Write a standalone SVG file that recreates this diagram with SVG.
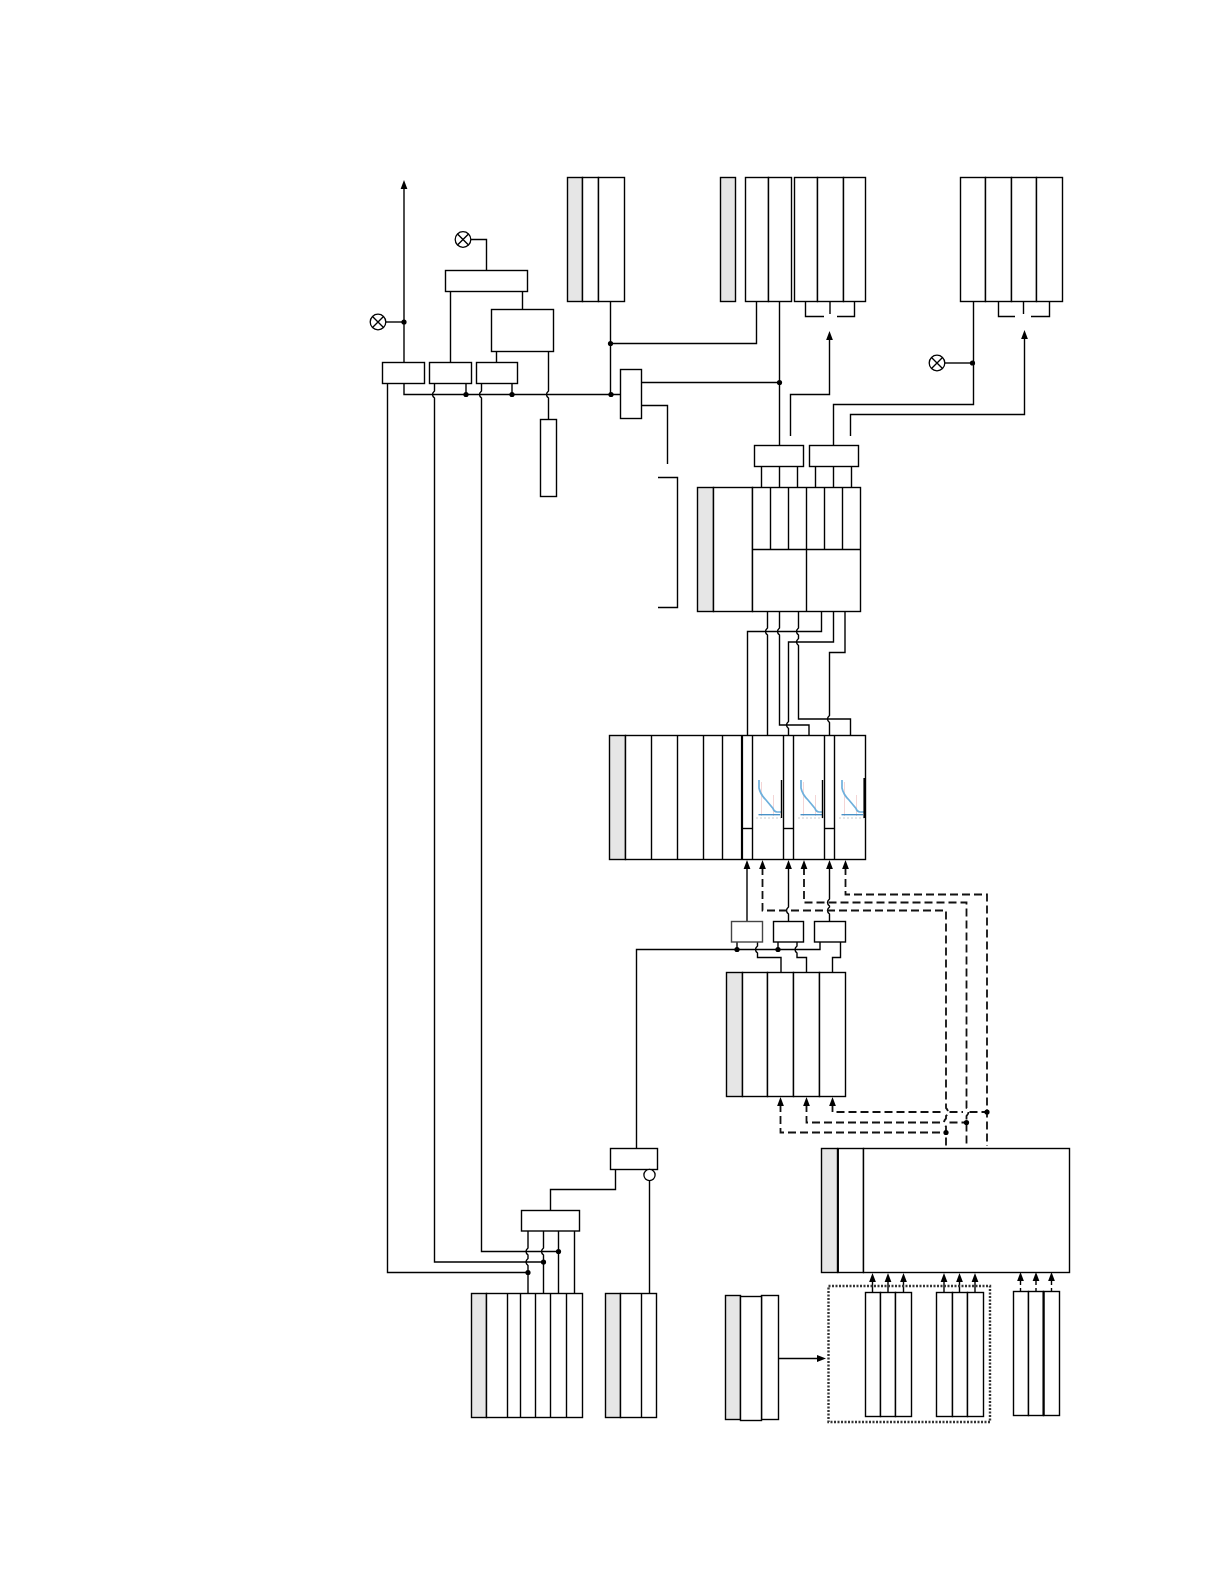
<svg xmlns="http://www.w3.org/2000/svg" width="1224" height="1584" viewBox="0 0 1224 1584">
<style>
rect{fill:#fff;stroke:#000;stroke-width:1.4}
rect.g{fill:#e6e6e6}
line{stroke:#000;stroke-width:1.4}
line.t{stroke-width:2.2}
path{fill:none;stroke:#000;stroke-width:1.4}
path.d{stroke-width:1.8;stroke-dasharray:8 4;stroke:#111}
circle.dot{fill:#000;stroke:none}
.lamp circle{fill:#fff;stroke:#000;stroke-width:1.3}
path.tip{fill:#000;stroke:none}
</style>
<defs>
<path id="up" class="tip" d="M0 0L-3.4 9H3.4Z"/>
<path id="right" class="tip" d="M0 0L-9 -3.4V3.4Z"/>
<circle id="dt" class="dot" r="2.6"/>
<g id="lampg" class="lamp"><circle r="7.8"/><path d="M-5.5 -5.5L5.5 5.5M-5.5 5.5L5.5 -5.5"/></g>
<g id="curve">
<path style="stroke:#f4d5d5;stroke-width:1" d="M761.5 782V816M773.5 795V816"/>
<path style="stroke:#ccc;stroke-width:1;stroke-dasharray:2 2" d="M756 818H781"/>
<path style="stroke:#6fb0dc;stroke-width:1.7" d="M759 780V788C760 793 763 797 766 800L773 808.5Q774 812 777 812H781"/>
<path style="stroke:#3f8cc4;stroke-width:1.3" d="M758.5 814.7H780"/>
</g>
</defs>

<g id="connectors">
<path d="M404 362V186"/>
<path d="M386 322H404"/>
<path d="M471 239.5H486.5V270"/>
<path d="M450.5 291V362M522.5 291V309M496.5 351V362"/>
<path d="M548.5 351V391Q544.5 394.5 548.5 398V419"/>
<path d="M404 383V394.5H620.5"/>
<path d="M466 383V394.5M512 383V394.5"/>
<path d="M387.5 383V1272.5H528"/>
<path d="M434.5 383V391Q430.5 394.5 434.5 398V1262H543.5"/>
<path d="M481.5 383V391Q477.5 394.5 481.5 398V1251.5H558.5"/>
<path d="M610.5 301V394.5"/>
<path d="M610.5 343.5H756.5V301"/>
<path d="M641 382.5H779.5"/>
<path d="M641 405.5H667.5V464"/>
<path d="M658 477.5H677.5V607.5H658"/>
<path d="M779.5 301V445"/>
<path d="M790.5 436V394.5H829.5V338"/>
<path d="M805.5 301V316.5H824M854.5 301V316.5H837M830 301V314"/>
<path d="M833.5 445V404.5H973.5V301"/>
<path d="M850.5 436V414.5H1024.5V337"/>
<path d="M945 363H973.5"/>
<path d="M998.5 301V316.5H1015M1049.5 301V316.5H1031M1023.5 301V314"/>
<path d="M761.5 466V487M779.5 466V487M797.5 466V487M815.5 466V487M833.5 466V487M851.5 466V487"/>

<path d="M767.5 611V628Q763.5 631.5 767.5 635V736"/>
<path d="M779.5 611V628Q775.5 631.5 779.5 635V725H809V736"/>
<path d="M798.5 611V628Q794.5 631.5 798.5 635V638.5Q794.5 642 798.5 645.5V719H850.5V736"/>
<path d="M821.5 611V631.5H747.5V736"/>
<path d="M833.5 611V642H788.5V721.5Q784.5 725 788.5 728.5V736"/>
<path d="M845 611V652.5H829.5V715.5Q825.5 719 829.5 722.5V736"/>

<path d="M747 921V867"/>
<path d="M788.5 921V914Q784.5 910.5 788.5 907V867"/>
<path d="M829.5 921V914Q825.5 910.5 829.5 907V906Q825.5 902.5 829.5 899V867"/>
<path class="d" d="M762.5 867V910.5H946V1108Q950 1112 946 1116V1118.5Q942 1122.5 946 1126.5V1146"/>
<path class="d" d="M804 867V902.5H966.5V1108Q970.5 1112 966.5 1116V1146"/>
<path class="d" d="M845.5 867V894.5H987V1146"/>
<path class="d" d="M832.5 1104V1112H943M949.5 1112H963M969.5 1112H987"/>
<path class="d" d="M806.5 1104V1122.5H943M949.5 1122.5H966.5"/>
<path class="d" d="M780.5 1104V1132.5H946"/>

<path d="M636.5 1148V949.5H820V942"/>
<path d="M737 942V949.5M778 942V949.5"/>
<path d="M757.5 942V946Q753.5 949.5 757.5 953V957.5H781V972"/>
<path d="M797 942V946Q793 949.5 797 953V957.5H806.5V972"/>
<path d="M840.5 942V957.5H832.5V972"/>

<path d="M615.5 1169.5V1189.5H550.5V1210"/>
<path d="M649.5 1181V1293"/>
<path d="M528 1231V1248Q524 1251.5 528 1255V1258.5Q524 1262 528 1265.5V1293"/>
<path d="M543.5 1231V1248Q539.5 1251.5 543.5 1255V1293"/>
<path d="M558.5 1231V1293M574.5 1231V1293"/>

<path d="M778 1358.5H818"/>
<path d="M872.5 1292V1280M888 1292V1280M903.5 1292V1280M944 1292V1280M959.5 1292V1280M975 1292V1280"/>
<path d="M1020.5 1291V1288M1020.5 1285V1280M1036 1291V1288M1036 1285V1280M1051.5 1291V1288M1051.5 1285V1280"/>

<use href="#up" x="404" y="180"/>
<use href="#up" x="829.5" y="331"/>
<use href="#up" x="1024.5" y="330"/>
<use href="#up" x="747" y="860"/>
<use href="#up" x="762.5" y="860"/>
<use href="#up" x="788.5" y="860"/>
<use href="#up" x="804" y="860"/>
<use href="#up" x="829.5" y="860"/>
<use href="#up" x="845.5" y="860"/>
<use href="#up" x="780.5" y="1097"/>
<use href="#up" x="806.5" y="1097"/>
<use href="#up" x="832.5" y="1097"/>
<use href="#up" x="872.5" y="1273"/>
<use href="#up" x="888" y="1273"/>
<use href="#up" x="903.5" y="1273"/>
<use href="#up" x="944" y="1273"/>
<use href="#up" x="959.5" y="1273"/>
<use href="#up" x="975" y="1273"/>
<use href="#up" x="1020.5" y="1272"/>
<use href="#up" x="1036" y="1272"/>
<use href="#up" x="1051.5" y="1272"/>
<use href="#right" x="826" y="1358.5"/>

<use href="#dt" x="404" y="322"/>
<use href="#dt" x="466" y="394.5"/>
<use href="#dt" x="512" y="394.5"/>
<use href="#dt" x="610.5" y="343.5"/>
<use href="#dt" x="611" y="394.5"/>
<use href="#dt" x="779.5" y="382.5"/>
<use href="#dt" x="972.5" y="363"/>
<use href="#dt" x="737" y="949.5"/>
<use href="#dt" x="778" y="949.5"/>
<use href="#dt" x="987" y="1112"/>
<use href="#dt" x="966.5" y="1122.5"/>
<use href="#dt" x="946" y="1132.5"/>
<use href="#dt" x="528" y="1272.5"/>
<use href="#dt" x="543.5" y="1262"/>
<use href="#dt" x="558.5" y="1251.5"/>
</g>

<g id="lamp1"><use href="#lampg" x="378" y="322"/></g>
<g id="lamp2"><use href="#lampg" x="463" y="239.5"/></g>
<g id="lamp3"><use href="#lampg" x="937" y="363"/></g>

<g id="box-a"><rect x="382.5" y="362.5" width="42" height="21"/></g>
<g id="box-b"><rect x="429.5" y="362.5" width="42" height="21"/></g>
<g id="box-c"><rect x="476.5" y="362.5" width="41" height="21"/></g>
<g id="box-top"><rect x="445.5" y="270.5" width="82" height="21"/></g>
<g id="box-d"><rect x="491.5" y="309.5" width="62" height="42"/></g>
<g id="box-e"><rect x="540.5" y="419.5" width="16" height="77"/></g>
<g id="box-f"><rect x="620.5" y="369.5" width="21" height="49"/></g>
<g id="box-g"><rect x="754.5" y="445.5" width="49" height="21"/></g>
<g id="box-h"><rect x="809.5" y="445.5" width="49" height="21"/></g>
<g id="box-i1"><rect x="731.5" y="921.5" width="31" height="20.5" style="stroke:#444"/></g>
<g id="box-i2"><rect x="773.5" y="921.5" width="30" height="20.5"/></g>
<g id="box-i3"><rect x="814.5" y="921.5" width="31" height="20.5"/></g>
<g id="box-j"><rect x="521.5" y="1210.5" width="58" height="20.5"/></g>
<g id="box-k"><rect x="610.5" y="1148.5" width="47" height="21"/></g>
<g id="circle-k" class="lamp"><circle cx="649.5" cy="1175" r="5.6"/></g>

<g id="block-top1">
<rect class="g" x="567.5" y="177.5" width="15" height="124"/>
<rect x="582.5" y="177.5" width="16" height="124"/>
<rect x="598.5" y="177.5" width="26" height="124"/>
</g>
<g id="block-top2"><rect class="g" x="720.5" y="177.5" width="15" height="124"/></g>
<g id="block-top3">
<rect x="745.5" y="177.5" width="23" height="124"/>
<rect x="768.5" y="177.5" width="23" height="124"/>
</g>
<g id="block-top4">
<rect x="794.5" y="177.5" width="23" height="124"/>
<rect x="817.5" y="177.5" width="26" height="124"/>
<rect x="843.5" y="177.5" width="22" height="124"/>
</g>
<g id="block-top5">
<rect x="960.5" y="177.5" width="25" height="124"/>
<rect x="985.5" y="177.5" width="26" height="124"/>
<rect x="1011.5" y="177.5" width="25" height="124"/>
<rect x="1036.5" y="177.5" width="26" height="124"/>
</g>

<g id="block-mid">
<rect class="g" x="697.5" y="487.5" width="16" height="124"/>
<rect x="713.5" y="487.5" width="39" height="124"/>
<rect x="752.5" y="487.5" width="108" height="124"/>
<line x1="752.5" y1="549.5" x2="860.5" y2="549.5"/>
<line x1="806.5" y1="549.5" x2="806.5" y2="611.5"/>
<line x1="770.5" y1="487.5" x2="770.5" y2="549.5"/>
<line x1="788.5" y1="487.5" x2="788.5" y2="549.5"/>
<line x1="806.5" y1="487.5" x2="806.5" y2="549.5"/>
<line x1="824.5" y1="487.5" x2="824.5" y2="549.5"/>
<line x1="842.5" y1="487.5" x2="842.5" y2="549.5"/>
</g>

<g id="block-curves">
<rect class="g" x="609.5" y="735.5" width="16" height="124"/>
<rect x="625.5" y="735.5" width="240" height="124"/>
<line x1="651.5" y1="735.5" x2="651.5" y2="859.5"/>
<line x1="677.5" y1="735.5" x2="677.5" y2="859.5"/>
<line x1="703.5" y1="735.5" x2="703.5" y2="859.5"/>
<line x1="722.5" y1="735.5" x2="722.5" y2="859.5"/>
<line class="t" x1="742" y1="735.5" x2="742" y2="859.5"/>
<line x1="752.5" y1="735.5" x2="752.5" y2="859.5"/>
<line x1="783.5" y1="735.5" x2="783.5" y2="859.5"/>
<line x1="793.5" y1="735.5" x2="793.5" y2="859.5"/>
<line x1="824.5" y1="735.5" x2="824.5" y2="859.5"/>
<line x1="834.5" y1="735.5" x2="834.5" y2="859.5"/>
<line x1="742" y1="828.5" x2="752.5" y2="828.5"/>
<line x1="783.5" y1="828.5" x2="793.5" y2="828.5"/>
<line x1="824.5" y1="828.5" x2="834.5" y2="828.5"/>
<use href="#curve"/>
<use href="#curve" x="42"/>
<use href="#curve" x="83"/>
<line x1="781.5" y1="780" x2="781.5" y2="818"/>
<line x1="822.5" y1="780" x2="822.5" y2="818"/>
<line class="t" x1="864.5" y1="778" x2="864.5" y2="818"/>
</g>

<g id="block-lower">
<rect class="g" x="726.5" y="972.5" width="16" height="124"/>
<rect x="742.5" y="972.5" width="25" height="124"/>
<rect x="767.5" y="972.5" width="26" height="124"/>
<rect x="793.5" y="972.5" width="26" height="124"/>
<rect x="819.5" y="972.5" width="26" height="124"/>
</g>

<g id="block-wide">
<rect class="g" x="821.5" y="1148.5" width="16" height="124"/>
<rect x="838" y="1148.5" width="25.5" height="124"/>
<rect x="863.5" y="1148.5" width="206" height="124"/>
<line x1="838" y1="1148.5" x2="838" y2="1272.5" style="stroke-width:1.8"/>
</g>

<g id="block-left">
<rect class="g" x="471.5" y="1293.5" width="15" height="124"/>
<rect x="486.5" y="1293.5" width="96" height="124"/>
<line x1="507.5" y1="1293.5" x2="507.5" y2="1417.5"/>
<line x1="520.5" y1="1293.5" x2="520.5" y2="1417.5"/>
<line x1="535.5" y1="1293.5" x2="535.5" y2="1417.5"/>
<line x1="550.5" y1="1293.5" x2="550.5" y2="1417.5"/>
<line x1="566.5" y1="1293.5" x2="566.5" y2="1417.5"/>
</g>
<g id="block-left2">
<rect class="g" x="605.5" y="1293.5" width="15" height="124"/>
<rect x="620.5" y="1293.5" width="36" height="124"/>
<line x1="641.5" y1="1293.5" x2="641.5" y2="1417.5"/>
</g>
<g id="block-source">
<rect class="g" x="725.5" y="1295.5" width="15" height="124"/>
<rect x="761.5" y="1295.5" width="17" height="124"/>
<rect x="740.5" y="1296.5" width="21" height="124"/>
</g>
<g id="group-dotted"><rect x="828.5" y="1286" width="161.5" height="136" style="fill:none;stroke-width:2.4;stroke-dasharray:2 1.5;stroke:#333"/></g>
<g id="block-g1">
<rect x="865.5" y="1292.5" width="15" height="124"/>
<rect x="880.5" y="1292.5" width="15" height="124"/>
<rect x="895.5" y="1292.5" width="16" height="124"/>
</g>
<g id="block-g2">
<rect x="936.5" y="1292.5" width="16" height="124"/>
<rect x="952.5" y="1292.5" width="15" height="124"/>
<rect x="967.5" y="1292.5" width="16" height="124"/>
</g>
<g id="block-g3">
<rect x="1013.5" y="1291.5" width="15" height="124"/>
<rect x="1028.5" y="1291.5" width="15" height="124"/>
<rect x="1043.5" y="1291.5" width="16" height="124"/>
<line x1="1043.7" y1="1291.5" x2="1043.7" y2="1415.5" style="stroke-width:2"/>
</g>
</svg>
